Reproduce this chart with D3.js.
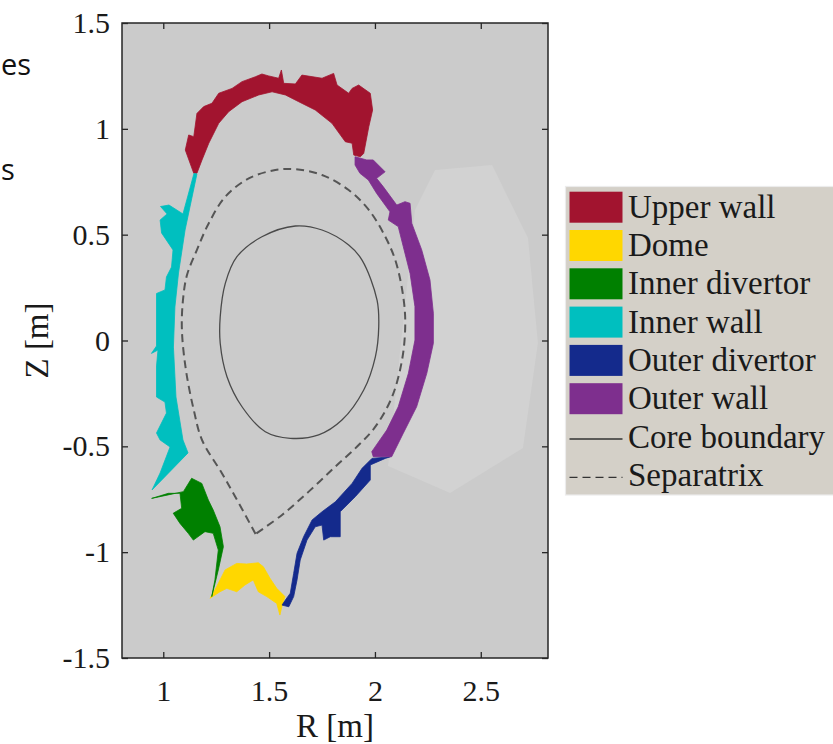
<!DOCTYPE html>
<html lang="en">
<head>
  <meta charset="utf-8">
  <title>Wall regions</title>
  <script src="https://cdn.jsdelivr.net/npm/d3@7/dist/d3.min.js"></script>
  <style>
    body { margin: 0; background: #fff; }
    text { font-family: "Liberation Serif", "Times New Roman", serif; fill: #1a1a1a; }
  </style>
</head>
<body>
  <svg class="chart" width="833" height="744"></svg>
  <script>
    var width = 833, height = 744;
    var box = { left: 122, right: 548, top: 23, bottom: 658 };

    // tick labels
    var rTicks = [1, 1.5, 2, 2.5];
    var zTicks = [-1.5, -1, -0.5, 0, 0.5, 1, 1.5];

    // wall regions, [R, Z] in metres
    var upperWall = [[1.144,0.790],[1.104,0.900],[1.120,0.971],[1.144,0.963],[1.159,1.073],[1.191,1.105],
      [1.230,1.121],[1.262,1.168],[1.325,1.191],[1.372,1.223],[1.435,1.246],[1.466,1.259],[1.498,1.250],
      [1.545,1.239],[1.558,1.278],[1.569,1.215],[1.624,1.212],[1.655,1.254],[1.750,1.239],[1.805,1.262],
      [1.821,1.207],[1.876,1.168],[1.892,1.191],[1.923,1.207],[1.978,1.168],[1.989,1.089],[1.971,1.010],
      [1.947,0.884],[1.931,0.868],[1.900,0.876],[1.892,0.932],[1.860,0.939],[1.797,1.026],[1.718,1.089],
      [1.640,1.128],[1.577,1.160],[1.514,1.175],[1.451,1.160],[1.372,1.128],[1.309,1.081],[1.262,1.026],
      [1.215,0.932],[1.183,0.853],[1.159,0.790]];
    var dome = [[1.221,-1.218],[1.252,-1.163],[1.292,-1.084],[1.347,-1.053],[1.394,-1.056],[1.449,-1.050],
      [1.473,-1.069],[1.504,-1.123],[1.536,-1.171],[1.575,-1.210],[1.560,-1.258],[1.551,-1.297],[1.536,-1.242],
      [1.489,-1.210],[1.449,-1.187],[1.425,-1.131],[1.386,-1.155],[1.347,-1.187],[1.300,-1.171],[1.268,-1.187]];
    var innerDivertor = [[0.945,-0.746],[1.095,-0.714],[1.134,-0.651],[1.182,-0.675],[1.213,-0.754],
      [1.236,-0.801],[1.268,-0.880],[1.284,-0.974],[1.260,-1.084],[1.229,-1.210],[1.244,-1.131],[1.260,-0.990],
      [1.236,-0.911],[1.197,-0.903],[1.142,-0.943],[1.118,-0.911],[1.079,-0.864],[1.047,-0.816],[1.087,-0.793],
      [1.079,-0.722],[1.024,-0.722]];
    var innerWall = [[1.145,0.789],[1.093,0.598],[1.027,0.640],[0.987,0.633],[1.018,0.598],[0.985,0.569],
      [0.992,0.508],[1.046,0.428],[1.039,0.347],[1.015,0.300],[1.008,0.239],[0.968,0.222],[0.968,-0.026],
      [0.944,-0.061],[0.975,-0.045],[0.968,-0.120],[0.968,-0.267],[1.008,-0.291],[1.015,-0.343],[0.968,-0.437],
      [0.985,-0.470],[1.032,-0.503],[0.985,-0.626],[0.947,-0.706],[1.117,-0.531],[1.093,-0.470],[1.060,-0.267],
      [1.048,-0.031],[1.055,0.158],[1.072,0.319],[1.103,0.522],[1.159,0.787]];
    var outerDivertor = [[2.073,-0.549],[1.986,-0.557],[1.939,-0.604],[1.892,-0.675],[1.813,-0.762],
      [1.750,-0.809],[1.703,-0.848],[1.663,-0.927],[1.632,-1.005],[1.616,-1.100],[1.600,-1.194],[1.577,-1.226],
      [1.561,-1.250],[1.593,-1.258],[1.616,-1.210],[1.632,-1.131],[1.647,-1.037],[1.679,-0.943],[1.718,-0.880],
      [1.750,-0.872],[1.758,-0.943],[1.789,-0.927],[1.836,-0.927],[1.836,-0.809],[1.907,-0.738],[1.978,-0.659],
      [1.978,-0.588],[2.049,-0.557]];
    var outerWall = [[1.906,0.868],[1.961,0.853],[1.992,0.853],[2.048,0.797],[2.008,0.766],[2.039,0.727],
      [2.103,0.640],[2.142,0.656],[2.166,0.648],[2.174,0.554],[2.221,0.428],[2.260,0.286],[2.276,0.129],
      [2.276,-0.013],[2.245,-0.155],[2.197,-0.313],[2.134,-0.438],[2.079,-0.549],[1.992,-0.549],[1.985,-0.525],
      [2.056,-0.423],[2.110,-0.313],[2.158,-0.155],[2.189,0.002],[2.189,0.160],[2.166,0.317],[2.134,0.443],
      [2.110,0.538],[2.063,0.569],[2.071,0.608],[2.008,0.695],[1.969,0.758],[1.929,0.790],[1.906,0.829]];

    // faint lighter patch on the low-field side
    var patch = [[2.062,-0.593],[2.189,0.617],[2.284,0.805],[2.553,0.829],[2.723,0.484],[2.770,-0.012],
      [2.699,-0.508],[2.355,-0.720]];

    var coreBoundary = [[1.624,0.541],[1.750,0.522],[1.876,0.451],[1.939,0.380],[2.010,0.191],[2.018,0.065],
      [2.002,-0.077],[1.947,-0.234],[1.844,-0.376],[1.734,-0.446],[1.600,-0.462],[1.482,-0.431],[1.372,-0.313],
      [1.301,-0.171],[1.269,-0.013],[1.269,0.112],[1.293,0.270],[1.348,0.396],[1.466,0.490]];
    var separatrix = [[1.436,-0.914],[1.340,-0.738],[1.277,-0.627],[1.183,-0.470],[1.144,-0.328],[1.107,-0.139],
      [1.088,0.050],[1.093,0.191],[1.112,0.309],[1.159,0.428],[1.215,0.554],[1.293,0.679],[1.404,0.766],
      [1.529,0.805],[1.624,0.809],[1.750,0.782],[1.876,0.711],[1.971,0.617],[2.049,0.490],[2.099,0.371],
      [2.136,0.191],[2.143,0.065],[2.128,-0.092],[2.081,-0.266],[2.002,-0.407],[1.923,-0.494],[1.813,-0.596],
      [1.687,-0.714],[1.561,-0.824],[1.436,-0.914]];

    var regionNames = ["Upper wall", "Dome", "Inner divertor", "Inner wall", "Outer divertor", "Outer wall"];
    var regionColors = ["#a2142f", "#ffd700", "#008000", "#00bfbf", "#142a8c", "#7e2f8e"];
    var regionShapes = [upperWall, dome, innerDivertor, innerWall, outerDivertor, outerWall];

    var x = d3.scaleLinear().domain([0.805, 2.8176]).range([box.left, box.right]);
    var y = d3.scaleLinear().domain([-1.5, 1.5]).range([box.bottom, box.top]);

    var svg = d3.select("svg.chart");

    // leftover slide text on the left edge
    svg.append("text").attr("x", 1).attr("y", 75)
      .style("font-family", "'Open Sans', sans-serif").style("font-size", "29px").style("fill", "#111")
      .text("es");
    svg.append("text").attr("x", 1).attr("y", 180)
      .style("font-family", "'Open Sans', sans-serif").style("font-size", "29px").style("fill", "#111")
      .text("s");

    svg.append("clipPath").attr("id", "plotclip").append("rect")
      .attr("x", box.left).attr("y", box.top)
      .attr("width", box.right - box.left).attr("height", box.bottom - box.top);

    svg.append("rect")
      .attr("x", box.left).attr("y", box.top)
      .attr("width", box.right - box.left).attr("height", box.bottom - box.top)
      .attr("fill", "#cbcbcb");

    var plot = svg.append("g").attr("clip-path", "url(#plotclip)");

    var poly = d3.line().x(function(d) { return x(d[0]); }).y(function(d) { return y(d[1]); });

    plot.append("path").datum(patch).attr("d", poly.curve(d3.curveLinearClosed))
      .attr("fill", "#d2d2d2");

    plot.selectAll("path.region")
      .data(regionShapes)
      .enter().append("path")
      .attr("class", "region")
      .attr("d", function(d) { return poly.curve(d3.curveLinearClosed)(d); })
      .attr("fill", function(d, i) { return regionColors[i]; })
      .attr("stroke", function(d, i) { return regionColors[i]; })
      .attr("stroke-width", 0.8)
      .attr("stroke-linejoin", "round");

    plot.append("path").datum(coreBoundary)
      .attr("d", poly.curve(d3.curveCatmullRomClosed)(coreBoundary))
      .attr("fill", "none").attr("stroke", "#4a4a4a").attr("stroke-width", 1.3);

    plot.append("path").datum(separatrix)
      .attr("d", poly.curve(d3.curveCatmullRom)(separatrix))
      .attr("fill", "none").attr("stroke", "#555").attr("stroke-width", 2)
      .attr("stroke-dasharray", "8,5");

    // axes, ticks pointing inward on all four sides
    var fmt = function(d) { return String(d); };
    var gx = svg.append("g").attr("transform", "translate(0," + box.bottom + ")")
      .call(d3.axisBottom(x).tickValues(rTicks).tickSize(-6).tickPadding(14).tickFormat(fmt));
    svg.append("g").attr("transform", "translate(0," + box.top + ")")
      .call(d3.axisTop(x).tickValues(rTicks).tickSize(-6).tickFormat(""));
    var gy = svg.append("g").attr("transform", "translate(" + box.left + ",0)")
      .call(d3.axisLeft(y).tickValues(zTicks).tickSize(-6).tickPadding(12).tickFormat(fmt));
    svg.append("g").attr("transform", "translate(" + box.right + ",0)")
      .call(d3.axisRight(y).tickValues(zTicks).tickSize(-6).tickFormat(""));

    svg.selectAll(".domain").remove();
    svg.selectAll(".tick line").attr("stroke", "#262626").attr("stroke-width", 1.3);
    svg.selectAll(".tick text").style("font-family", "'Liberation Serif', serif")
      .style("font-size", "30px").attr("fill", "#1a1a1a");
    gx.selectAll(".tick text").attr("y", 22).attr("dy", "0.71em");

    svg.append("rect")
      .attr("x", box.left).attr("y", box.top)
      .attr("width", box.right - box.left).attr("height", box.bottom - box.top)
      .attr("fill", "none").attr("stroke", "#262626").attr("stroke-width", 1.5);

    svg.append("text")
      .attr("x", (box.left + box.right) / 2).attr("y", 737)
      .attr("text-anchor", "middle").style("font-size", "33px")
      .text("R [m]");
    svg.append("text")
      .attr("transform", "translate(48," + ((box.top + box.bottom) / 2) + ") rotate(-90)")
      .attr("text-anchor", "middle").style("font-size", "33px")
      .text("Z [m]");

    // legend
    var legendLabels = regionNames.concat(["Core boundary", "Separatrix"]);
    var rowH = 38.3;
    var legend = svg.append("g").attr("transform", "translate(565.5,186.5)");
    legend.append("rect").attr("width", 280).attr("height", 308.5)
      .attr("fill", "#d4d0c8").attr("stroke", "#ececec").attr("stroke-width", 1.2);

    var rows = legend.selectAll("g.row").data(legendLabels).enter().append("g")
      .attr("class", "row")
      .attr("transform", function(d, i) { return "translate(0," + (20.7 + i * rowH) + ")"; });

    rows.filter(function(d, i) { return i < regionNames.length; })
      .append("rect")
      .attr("x", 4).attr("y", -15.5).attr("width", 53).attr("height", 31)
      .attr("fill", function(d, i) { return regionColors[i]; });

    rows.filter(function(d, i) { return i >= regionNames.length; })
      .append("line")
      .attr("x1", 4).attr("x2", 57).attr("y1", 2).attr("y2", 2)
      .attr("stroke", "#333").attr("stroke-width", 1.3)
      .attr("stroke-dasharray", function(d, i) { return i === 1 ? "8,5" : null; });

    rows.append("text")
      .attr("x", 62.5).attr("y", 10.5)
      .style("font-size", "33px")
      .text(function(d) { return d; });
  </script>
</body>
</html>
